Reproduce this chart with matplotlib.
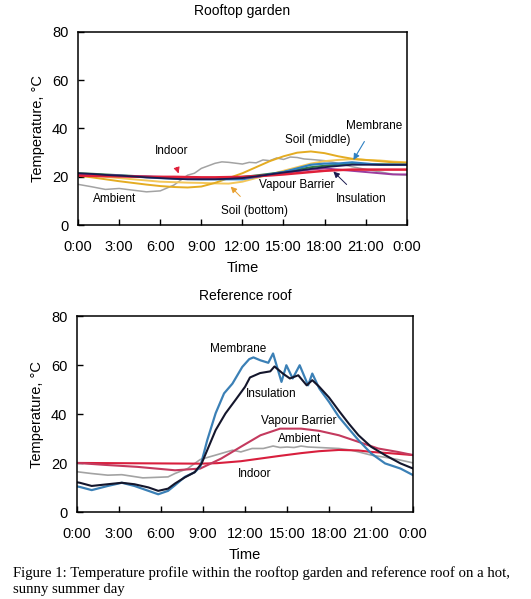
import matplotlib
matplotlib.use("Agg")
import matplotlib.pyplot as plt

# ---------------- Data: Rooftop garden (hourly, 0..24 h) ----------------
hours_top = [0, 1, 2, 3, 4, 5, 6, 7, 8, 9, 10, 11, 12, 13, 14, 15, 16, 17, 18, 19, 20, 21, 22, 23, 24]

top_ambient_t = [0, 1, 2, 3, 4, 5, 6, 7, 8, 8.5, 9, 10, 10.5, 11, 12, 12.5, 13, 13.5, 14, 14.5, 15, 15.5, 16, 16.5, 17, 18, 19, 20, 21, 22, 23, 24]
top_ambient = [16.9, 15.9, 14.8, 15.2, 14.5, 13.8, 14.2, 16.6, 20.7, 21.5, 23.5, 25.6, 26.2, 26.0, 25.3, 26.0, 25.8, 27.0, 26.7, 27.8, 27.2, 28.2, 28.0, 27.4, 27.2, 26.7, 25.6, 24.2, 23.1, 22.1, 21.1, 20.7]
top_soil_middle = [20.5, 19.8, 19.0, 18.2, 17.5, 16.8, 16.2, 15.8, 15.6, 16.0, 17.5, 19.5, 21.5, 24.0, 26.5, 28.5, 30.0, 30.5, 29.8, 28.5, 27.5, 27.0, 26.5, 26.0, 25.8]
top_soil_bottom = [21.0, 20.5, 20.0, 19.5, 19.0, 18.5, 18.0, 17.8, 17.6, 17.5, 17.3, 17.2, 18.0, 19.5, 21.0, 22.5, 24.0, 25.5, 26.5, 27.0, 27.3, 27.0, 26.8, 26.3, 26.0]
top_indoor = [20.5, 20.4, 20.3, 20.2, 20.1, 20.0, 20.0, 20.0, 19.9, 19.8, 19.8, 19.9, 20.0, 20.3, 20.6, 21.0, 21.5, 22.0, 22.5, 22.8, 23.0, 23.0, 23.0, 23.0, 23.0]
top_membrane = [21.0, 20.8, 20.7, 20.5, 20.2, 19.8, 19.5, 19.3, 19.1, 19.0, 19.0, 19.0, 19.0, 20.0, 21.0, 22.0, 23.5, 25.0, 25.5, 25.5, 26.0, 25.5, 25.0, 25.0, 25.0]
top_vapour = [21.0, 20.8, 20.7, 20.5, 20.3, 20.2, 20.0, 19.8, 19.6, 19.5, 19.5, 19.5, 19.5, 20.0, 20.8, 21.5, 22.3, 23.0, 23.5, 23.0, 22.5, 22.0, 21.5, 21.0, 21.0]
top_insulation = [21.5, 21.2, 20.8, 20.5, 20.2, 19.8, 19.5, 19.2, 19.0, 19.0, 19.0, 19.2, 19.5, 20.2, 21.0, 21.8, 22.5, 23.3, 24.0, 24.5, 25.0, 25.0, 25.0, 25.0, 25.0]
top_green = [21.5, 21.3, 21.0, 20.7, 20.4, 20.1, 19.8, 19.5, 19.3, 19.3, 19.4, 19.6, 20.0, 20.6, 21.3, 22.0, 23.0, 24.0, 24.6, 25.0, 25.3, 25.3, 25.2, 25.1, 25.0]

# ---------------- Data: Reference roof ----------------
ref_membrane_t = [0, 0.2, 1.05, 2.2, 3.2, 4.1, 5.1, 5.8, 6.5, 7.0, 7.7, 8.4, 8.8, 9.3, 9.9, 10.5, 11.1, 11.8, 12.3, 12.6, 13.1, 13.66, 14.0, 14.6, 14.95, 15.4, 15.9, 16.5, 16.8, 17.3, 18.0, 18.7, 19.4, 20.1, 21.0, 22.0, 23.1, 24.0]
ref_membrane = [10.5, 10.3, 9.0, 10.7, 12.0, 10.7, 8.7, 7.3, 8.7, 11.0, 14.4, 16.3, 18.5, 29.4, 40.4, 48.5, 52.5, 59.3, 62.5, 63.2, 62.0, 61.0, 64.8, 53.2, 60.0, 54.6, 60.0, 51.8, 56.6, 50.5, 45.0, 38.9, 34.1, 29.4, 24.0, 19.9, 17.8, 15.1]
ref_insulation_t = [0, 0.2, 1.05, 2.2, 3.2, 4.1, 5.1, 5.8, 6.5, 7.0, 7.7, 8.4, 8.9, 9.4, 9.9, 10.6, 11.3, 12.0, 12.35, 13.07, 13.8, 14.1, 14.7, 15.2, 15.8, 16.4, 16.8, 17.3, 18.0, 18.7, 19.4, 20.1, 21.0, 22.0, 23.1, 24.0]
ref_insulation = [12.2, 12.0, 10.7, 11.4, 12.0, 11.4, 10.1, 8.7, 9.6, 11.7, 14.2, 16.3, 19.9, 26.7, 33.5, 40.3, 45.7, 51.2, 55.0, 56.8, 57.5, 59.5, 56.6, 54.6, 55.9, 51.8, 53.9, 51.2, 46.8, 41.4, 36.2, 31.4, 26.7, 23.3, 19.9, 17.8]
ref_vapour_t = [0, 2, 4.3, 7, 8.8, 10.3, 11.7, 13.1, 14.5, 16.0, 17.3, 18.7, 20.1, 21.5, 22.9, 24.0]
ref_vapour = [20.1, 19.3, 18.5, 17.1, 17.8, 21.9, 26.7, 31.4, 34.1, 34.1, 33.2, 31.4, 28.7, 26.0, 24.6, 23.3]
ref_indoor_t = [0, 3, 6, 8.8, 10, 11.7, 13.1, 14.5, 16.0, 17.3, 18.7, 20.1, 21.0, 22.5, 24.0]
ref_indoor = [20.1, 20.0, 19.9, 19.8, 20.0, 20.8, 21.9, 23.0, 24.1, 24.9, 25.4, 25.2, 24.6, 24.0, 23.3]
ref_ambient_t = [0, 1, 2.2, 3.2, 4.7, 6.5, 7.0, 7.9, 8.8, 9.9, 11.1, 11.7, 12.5, 13.3, 14.0, 14.5, 15.0, 15.5, 16.0, 16.5, 17.3, 18.0, 18.7, 19.5, 20.1, 21.0, 22.0, 22.9, 24.0]
ref_ambient = [16.5, 15.8, 15.1, 15.3, 14.0, 14.4, 15.8, 17.8, 21.5, 23.3, 25.3, 24.6, 26.0, 26.0, 27.0, 26.4, 26.6, 26.4, 27.0, 26.6, 26.4, 26.2, 26.0, 25.4, 24.6, 23.3, 22.4, 21.5, 20.1]

xtick_vals = [0, 3, 6, 9, 12, 15, 18, 21, 24]
xtick_labels = ["0:00", "3:00", "6:00", "9:00", "12:00", "15:00", "18:00", "21:00", "0:00"]
ytick_vals = [0, 20, 40, 60, 80]

plt.rcParams['font.family'] = ['Liberation Sans', 'DejaVu Sans']

fig = plt.figure(figsize=(5.31, 5.99), dpi=100)
ax1 = fig.add_axes([0.147, 0.624, 0.619, 0.323])
ax2 = fig.add_axes([0.145, 0.145, 0.633, 0.327])

def style(ax, title):
    ax.set_xlim(0, 24)
    ax.set_ylim(0, 80)
    ax.set_xticks(xtick_vals)
    ax.set_xticklabels(xtick_labels)
    ax.set_yticks(ytick_vals)
    ax.tick_params(direction='in', length=4, width=1, labelsize=10.5, top=False, right=False)
    ax.tick_params(axis='x', pad=10.5)
    ax.tick_params(axis='y', pad=7)
    for s in ax.spines.values():
        s.set_linewidth(1.1)
    ax.set_xlabel("Time", fontsize=10.5, labelpad=5)
    ax.set_ylabel("Temperature, °C", fontsize=10.5, labelpad=5)
    ax.set_title(title, fontsize=10, pad=12)

# ---- Top panel ----
ax1.plot(top_ambient_t, top_ambient, color='#a3a3a3', lw=1.1)
ax1.plot(hours_top, top_soil_bottom, color='#f3c75a', lw=1.4)
ax1.plot(hours_top, top_soil_middle, color='#e4ac22', lw=1.4)
ax1.plot(hours_top, top_green, color='#2c7a45', lw=1.4)
ax1.plot(hours_top, top_membrane, color='#2e80c2', lw=1.6)
ax1.plot(hours_top, top_vapour, color='#9b3c9e', lw=1.4)
ax1.plot(hours_top, top_indoor, color='#e0203a', lw=1.8)
ax1.plot(hours_top, top_insulation, color='#1b1b4f', lw=1.3)
style(ax1, "Rooftop garden")

fs = 8.5
ax1.annotate("Indoor", xy=(7.4, 20.3), xytext=(6.8, 30.8), ha='center', va='center', fontsize=fs,
             arrowprops=dict(arrowstyle='-|>', color='#e0203a', lw=0.7, shrinkA=6, mutation_scale=9))
ax1.annotate("Membrane", xy=(20.0, 26.0), xytext=(21.6, 41.2), ha='center', va='center', fontsize=fs,
             arrowprops=dict(arrowstyle='-|>', color='#2e80c2', lw=0.8, shrinkA=6, mutation_scale=9))
ax1.text(17.5, 35.2, "Soil (middle)", ha='center', va='center', fontsize=fs)
ax1.text(16.0, 16.6, "Vapour Barrier", ha='center', va='center', fontsize=fs)
ax1.annotate("Insulation", xy=(18.5, 23.0), xytext=(20.7, 10.8), ha='center', va='center', fontsize=fs,
             arrowprops=dict(arrowstyle='-|>', color='#1b1b4f', lw=0.7, shrinkA=6, mutation_scale=9))
ax1.annotate("Soil (bottom)", xy=(11.0, 16.8), xytext=(12.9, 5.8), ha='center', va='center', fontsize=fs,
             arrowprops=dict(arrowstyle='-|>', color='#e8a030', lw=0.7, shrinkA=6, mutation_scale=9))
ax1.text(2.7, 10.8, "Ambient", ha='center', va='center', fontsize=fs)

# ---- Bottom panel ----
ax2.plot(ref_ambient_t, ref_ambient, color='#a3a3a3', lw=1.2)
ax2.plot(ref_indoor_t, ref_indoor, color='#d81f3d', lw=1.5)
ax2.plot(ref_vapour_t, ref_vapour, color='#c43a5e', lw=1.5)
ax2.plot(ref_membrane_t, ref_membrane, color='#3b80b6', lw=1.6)
ax2.plot(ref_insulation_t, ref_insulation, color='#14162c', lw=1.5)
style(ax2, "Reference roof")

ax2.text(11.5, 66.8, "Membrane", ha='center', va='center', fontsize=fs)
ax2.text(13.9, 48.4, "Insulation", ha='center', va='center', fontsize=fs)
ax2.text(15.8, 37.3, "Vapour Barrier", ha='center', va='center', fontsize=fs)
ax2.text(15.9, 29.8, "Ambient", ha='center', va='center', fontsize=fs)
ax2.text(12.7, 15.5, "Indoor", ha='center', va='center', fontsize=fs)

# ---- Caption ----
fig.text(0.024, 1 - 573 / 599, "Figure 1: Temperature profile within the rooftop garden and reference roof on a hot,",
         fontsize=10.6, family=['Liberation Serif', 'DejaVu Serif'], ha='left', va='center')
fig.text(0.024, 1 - 590 / 599, "sunny summer day",
         fontsize=10.6, family=['Liberation Serif', 'DejaVu Serif'], ha='left', va='center')

fig.savefig("out.png", dpi=100)
